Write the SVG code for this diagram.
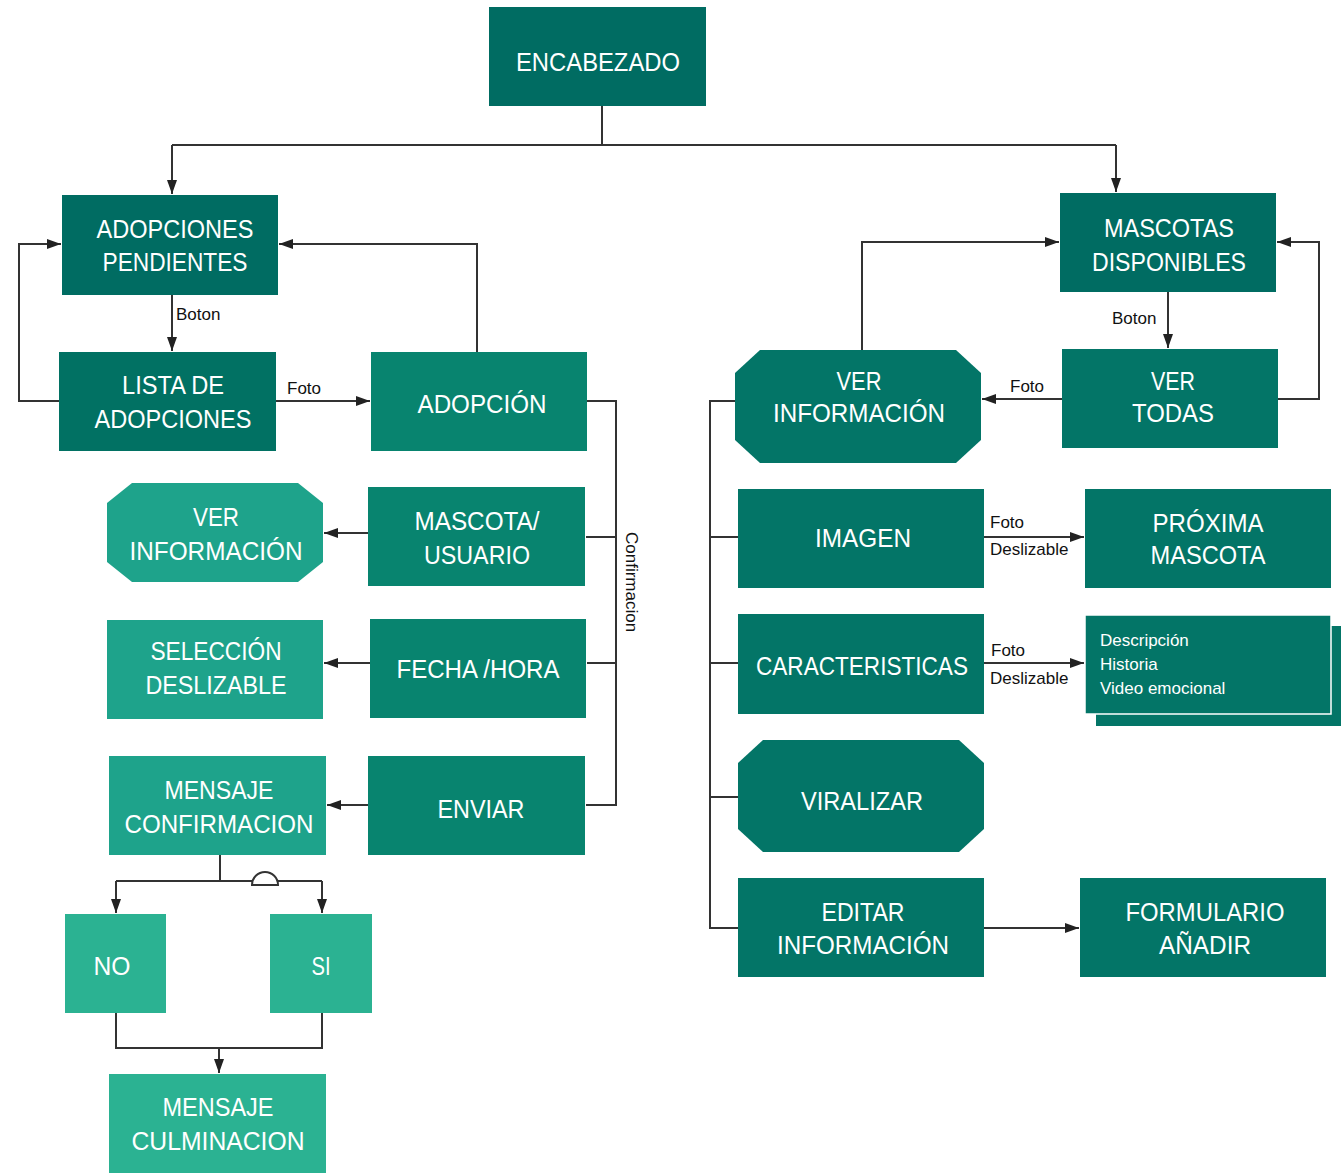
<svg xmlns="http://www.w3.org/2000/svg" width="1341" height="1173" viewBox="0 0 1341 1173">
  <style>
    .n { fill: #ffffff; font-family: "Liberation Sans", "Open Sans", sans-serif; font-size: 26px; text-anchor: middle; }
    .s { fill: #111111; font-family: "Liberation Sans", "Open Sans", sans-serif; font-size: 17px; }
    .d { fill: #ffffff; font-family: "Liberation Sans", "Open Sans", sans-serif; font-size: 17px; }
    .c0 { fill: #006c62; }
    .c1 { fill: #037567; }
    .c2 { fill: #08846f; }
    .c3 { fill: #1ea38b; }
    .c4 { fill: #2bb292; }
    .ln { fill: none; stroke: #333333; stroke-width: 2; }
    .la { fill: none; stroke: #333333; stroke-width: 2; marker-end: url(#ah); }
  </style>
  <defs>
    <marker id="ah" markerUnits="userSpaceOnUse" markerWidth="15" markerHeight="11" refX="14" refY="5" orient="auto">
      <path d="M0,0 L14,5 L0,10 z" fill="#222222"/>
    </marker>
  </defs>
  <rect width="1341" height="1173" fill="#ffffff"/>

  <!-- connectors -->
  <g id="connectors">
    <path class="ln" d="M602,106 V145 M172,145 H1116"/>
    <path class="la" d="M172,145 V194"/>
    <path class="la" d="M1116,145 V192"/>
    <path class="la" d="M172,295 V351"/>
    <path class="la" d="M59,401 H19 V244 H61"/>
    <path class="la" d="M477,352 V244 H279"/>
    <path class="la" d="M276,401 H370"/>
    <path class="ln" d="M587,401 H616 V805 H586 M586,537 H616 M587,663 H616"/>
    <path class="la" d="M368,533 H324"/>
    <path class="la" d="M370,663 H324"/>
    <path class="la" d="M368,805 H327"/>
    <path class="ln" d="M220,855 V881 M116,881 H322"/>
    <path d="M252,885 A13,13 0 0 1 278,885 Z" fill="#ffffff" stroke="#333333" stroke-width="2"/>
    <path class="la" d="M116,881 V913"/>
    <path class="la" d="M322,881 V913"/>
    <path class="ln" d="M116,1013 V1048 H322 V1013"/>
    <path class="la" d="M219,1048 V1073"/>
    <path class="la" d="M1168,292 V348"/>
    <path class="la" d="M1278,399 H1319 V242 H1277"/>
    <path class="la" d="M1062,399 H982"/>
    <path class="la" d="M862,350 V242 H1059"/>
    <path class="ln" d="M735,401 H710 V928 H738 M710,537 H738 M710,663 H738 M710,797 H738"/>
    <path class="la" d="M984,537 H1084"/>
    <path class="la" d="M984,663 H1084"/>
    <path class="la" d="M984,928 H1079"/>
    <text class="s" x="176" y="320">Boton</text>
    <text class="s" x="287" y="394">Foto</text>
    <text class="s" x="1112" y="324">Boton</text>
    <text class="s" x="1010" y="392">Foto</text>
    <text class="s" x="990" y="528">Foto</text>
    <text class="s" x="990" y="555">Deslizable</text>
    <text class="s" x="991" y="656">Foto</text>
    <text class="s" x="990" y="684">Deslizable</text>
    <text class="s" transform="translate(626,532) rotate(90)">Confirmacion</text>
  </g>

  <!-- nodes -->
  <g id="encabezado">
    <rect class="c0" x="489" y="7" width="217" height="99"/>
    <text class="n" x="598" y="71" textLength="164" lengthAdjust="spacingAndGlyphs">ENCABEZADO</text>
  </g>
  <g id="adopciones-pendientes">
    <rect class="c0" x="62" y="195" width="216" height="100"/>
    <text class="n" x="175" y="238" textLength="157" lengthAdjust="spacingAndGlyphs">ADOPCIONES</text>
    <text class="n" x="175" y="271" textLength="145" lengthAdjust="spacingAndGlyphs">PENDIENTES</text>
  </g>
  <g id="lista-adopciones">
    <rect class="c0" x="59" y="352" width="217" height="99" style="fill:#017163"/>
    <text class="n" x="173" y="394" textLength="102" lengthAdjust="spacingAndGlyphs">LISTA DE</text>
    <text class="n" x="173" y="428" textLength="157" lengthAdjust="spacingAndGlyphs">ADOPCIONES</text>
  </g>
  <g id="adopcion">
    <rect class="c2" x="371" y="352" width="216" height="99"/>
    <text class="n" x="482" y="413" textLength="129" lengthAdjust="spacingAndGlyphs">ADOPCIÓN</text>
  </g>
  <g id="mascota-usuario">
    <rect class="c2" x="368" y="487" width="217" height="99"/>
    <text class="n" x="477" y="530" textLength="125" lengthAdjust="spacingAndGlyphs">MASCOTA/</text>
    <text class="n" x="477" y="564" textLength="106" lengthAdjust="spacingAndGlyphs">USUARIO</text>
  </g>
  <g id="ver-informacion-izq">
    <polygon class="c3" points="132,483 298,483 323,503 323,562 298,582 132,582 107,562 107,503"/>
    <text class="n" x="216" y="526" textLength="46" lengthAdjust="spacingAndGlyphs">VER</text>
    <text class="n" x="216" y="560" textLength="173" lengthAdjust="spacingAndGlyphs">INFORMACIÓN</text>
  </g>
  <g id="fecha-hora">
    <rect class="c2" x="370" y="619" width="216" height="99"/>
    <text class="n" x="478" y="678" textLength="163" lengthAdjust="spacingAndGlyphs">FECHA /HORA</text>
  </g>
  <g id="seleccion-deslizable">
    <rect class="c3" x="107" y="620" width="216" height="99"/>
    <text class="n" x="216" y="660" textLength="131" lengthAdjust="spacingAndGlyphs">SELECCIÓN</text>
    <text class="n" x="216" y="694" textLength="141" lengthAdjust="spacingAndGlyphs">DESLIZABLE</text>
  </g>
  <g id="enviar">
    <rect class="c2" x="368" y="756" width="217" height="99"/>
    <text class="n" x="481" y="818" textLength="87" lengthAdjust="spacingAndGlyphs">ENVIAR</text>
  </g>
  <g id="mensaje-confirmacion">
    <rect class="c3" x="109" y="756" width="217" height="99"/>
    <text class="n" x="219" y="799" textLength="109" lengthAdjust="spacingAndGlyphs">MENSAJE</text>
    <text class="n" x="219" y="833" textLength="189" lengthAdjust="spacingAndGlyphs">CONFIRMACION</text>
  </g>
  <g id="no">
    <rect class="c4" x="65" y="914" width="101" height="99"/>
    <text class="n" x="112" y="975" textLength="37" lengthAdjust="spacingAndGlyphs">NO</text>
  </g>
  <g id="si">
    <rect class="c4" x="270" y="914" width="102" height="99"/>
    <text class="n" x="321" y="975" textLength="19" lengthAdjust="spacingAndGlyphs">SI</text>
  </g>
  <g id="mensaje-culminacion">
    <rect class="c4" x="109" y="1074" width="217" height="99"/>
    <text class="n" x="218" y="1116" textLength="111" lengthAdjust="spacingAndGlyphs">MENSAJE</text>
    <text class="n" x="218" y="1150" textLength="173" lengthAdjust="spacingAndGlyphs">CULMINACION</text>
  </g>

  <g id="mascotas-disponibles">
    <rect class="c0" x="1060" y="193" width="216" height="99"/>
    <text class="n" x="1169" y="237" textLength="130" lengthAdjust="spacingAndGlyphs">MASCOTAS</text>
    <text class="n" x="1169" y="271" textLength="154" lengthAdjust="spacingAndGlyphs">DISPONIBLES</text>
  </g>
  <g id="ver-todas">
    <rect class="c1" x="1062" y="349" width="216" height="99"/>
    <text class="n" x="1173" y="390" textLength="44" lengthAdjust="spacingAndGlyphs">VER</text>
    <text class="n" x="1173" y="422" textLength="82" lengthAdjust="spacingAndGlyphs">TODAS</text>
  </g>
  <g id="ver-informacion-der">
    <polygon class="c1" points="760,350 956,350 981,373 981,440 956,463 760,463 735,440 735,373"/>
    <text class="n" x="859" y="390" textLength="45" lengthAdjust="spacingAndGlyphs">VER</text>
    <text class="n" x="859" y="422" textLength="172" lengthAdjust="spacingAndGlyphs">INFORMACIÓN</text>
  </g>
  <g id="imagen">
    <rect class="c1" x="738" y="489" width="246" height="99"/>
    <text class="n" x="863" y="547" textLength="96" lengthAdjust="spacingAndGlyphs">IMAGEN</text>
  </g>
  <g id="proxima-mascota">
    <rect class="c1" x="1085" y="489" width="246" height="99"/>
    <text class="n" x="1208" y="532" textLength="111" lengthAdjust="spacingAndGlyphs">PRÓXIMA</text>
    <text class="n" x="1208" y="564" textLength="115" lengthAdjust="spacingAndGlyphs">MASCOTA</text>
  </g>
  <g id="caracteristicas">
    <rect class="c1" x="738" y="614" width="246" height="100"/>
    <text class="n" x="862" y="675" font-size="22" textLength="212" lengthAdjust="spacingAndGlyphs">CARACTERISTICAS</text>
  </g>
  <g id="detalle">
    <rect class="c1" x="1096" y="626" width="250" height="100"/>
    <rect class="c1" x="1085" y="615" width="246" height="99" stroke="#ffffff" stroke-width="1.5"/>
    <text class="d" x="1100" y="646">Descripción</text>
    <text class="d" x="1100" y="670">Historia</text>
    <text class="d" x="1100" y="694">Video emocional</text>
  </g>
  <g id="viralizar">
    <polygon class="c1" points="763,740 959,740 984,763 984,829 959,852 763,852 738,829 738,763"/>
    <text class="n" x="862" y="810" textLength="122" lengthAdjust="spacingAndGlyphs">VIRALIZAR</text>
  </g>
  <g id="editar-informacion">
    <rect class="c1" x="738" y="878" width="246" height="99"/>
    <text class="n" x="863" y="921" textLength="83" lengthAdjust="spacingAndGlyphs">EDITAR</text>
    <text class="n" x="863" y="954" textLength="172" lengthAdjust="spacingAndGlyphs">INFORMACIÓN</text>
  </g>
  <g id="formulario-anadir">
    <rect class="c1" x="1080" y="878" width="246" height="99"/>
    <text class="n" x="1205" y="921" textLength="159" lengthAdjust="spacingAndGlyphs">FORMULARIO</text>
    <text class="n" x="1205" y="954" textLength="92" lengthAdjust="spacingAndGlyphs">AÑADIR</text>
  </g>
</svg>
